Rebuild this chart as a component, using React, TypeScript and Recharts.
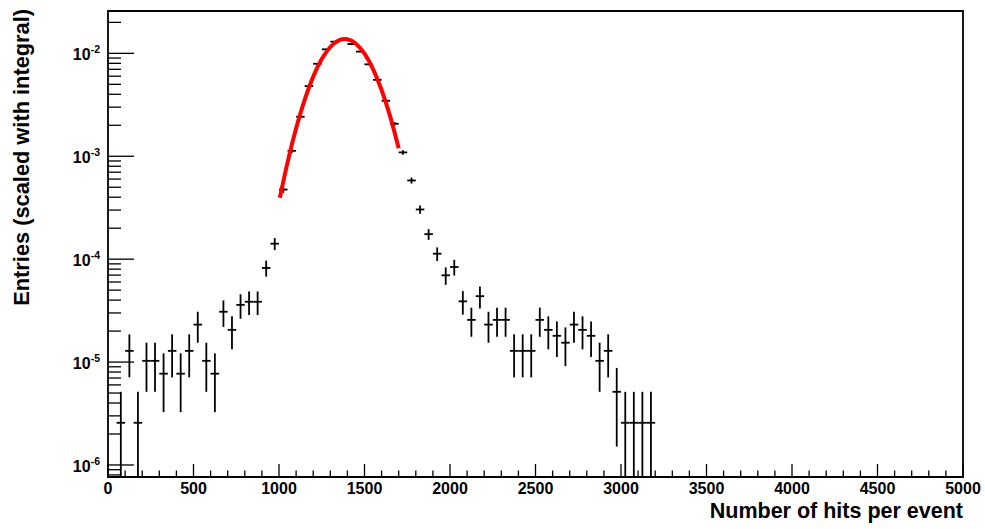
import {
  ComposedChart,
  Scatter,
  Line,
  XAxis,
  YAxis,
  ErrorBar,
  ReferenceArea,
} from 'recharts';

// histogram: bin centres (bin width 50), scaled contents and their errors
const BIN_CENTERS = [
  75, 125, 175, 225, 275, 325, 375, 425, 475, 525, 575, 625, 675, 725, 775, 825,
  875, 925, 975, 1025, 1075, 1125, 1175, 1225, 1275, 1325, 1375, 1425, 1475,
  1525, 1575, 1625, 1675, 1725, 1775, 1825, 1875, 1925, 1975, 2025, 2075, 2125,
  2175, 2225, 2275, 2325, 2375, 2425, 2475, 2525, 2575, 2625, 2675, 2725, 2775,
  2825, 2875, 2925, 2975, 3025, 3075, 3125, 3175,
];

const ENTRIES = [
  2.57e-6, 1.285e-5, 2.57e-6, 1.028e-5, 1.028e-5, 7.71e-6, 1.285e-5, 7.71e-6,
  1.285e-5, 2.313e-5, 1.028e-5, 7.71e-6, 3.084e-5, 2.056e-5, 3.598e-5, 3.855e-5,
  3.855e-5, 8.22e-5, 1.414e-4, 4.75e-4, 1.13e-3, 2.42e-3, 4.81e-3, 7.92e-3,
  1.094e-2, 1.3e-2, 1.36e-2, 1.23e-2, 1.04e-2, 7.82e-3, 5.53e-3, 3.46e-3,
  2.07e-3, 1.09e-3, 5.82e-4, 3.04e-4, 1.75e-4, 1.13e-4, 6.97e-5, 8.39e-5,
  3.89e-5, 2.57e-5, 4.37e-5, 2.313e-5, 2.57e-5, 2.57e-5, 1.285e-5, 1.285e-5,
  1.285e-5, 2.57e-5, 2.056e-5, 1.799e-5, 1.542e-5, 2.313e-5, 2.056e-5, 1.799e-5,
  1.028e-5, 1.285e-5, 5.14e-6, 2.57e-6, 2.57e-6, 2.57e-6, 2.57e-6,
];

const ENTRY_ERRORS = [
  2.57e-6, 5.75e-6, 2.57e-6, 5.14e-6, 5.14e-6, 4.45e-6, 5.75e-6, 4.45e-6,
  5.75e-6, 7.71e-6, 5.14e-6, 4.45e-6, 8.9e-6, 7.27e-6, 9.62e-6, 9.95e-6,
  9.95e-6, 1.45e-5, 1.9e-5, 3.5e-5, 5.4e-5, 7.9e-5, 1.11e-4, 1.43e-4,
  1.68e-4, 1.83e-4, 1.87e-4, 1.78e-4, 1.63e-4, 1.42e-4, 1.19e-4, 9.4e-5,
  7.3e-5, 5.3e-5, 3.9e-5, 2.8e-5, 2.1e-5, 1.7e-5, 1.34e-5, 1.46e-5,
  1.0e-5, 8.1e-6, 1.06e-5, 7.71e-6, 8.1e-6, 8.1e-6, 5.75e-6, 5.75e-6,
  5.75e-6, 8.1e-6, 7.27e-6, 6.8e-6, 6.3e-6, 7.71e-6, 7.27e-6, 6.8e-6,
  5.14e-6, 5.75e-6, 3.63e-6, 2.57e-6, 2.57e-6, 2.57e-6, 2.57e-6,
];

const HALF_BIN = 25;

// gaussian fit
const FIT_X = [1005, 1050, 1100, 1150, 1200, 1250, 1300, 1350, 1385, 1400, 1450, 1500, 1550, 1600, 1650, 1700];
const FIT_Y = [
  3.95e-4, 8.72e-4, 1.87e-3, 3.54e-3, 5.94e-3, 8.81e-3, 1.153e-2, 1.337e-2,
  1.377e-2, 1.369e-2, 1.241e-2, 9.93e-3, 7.04e-3, 4.4e-3, 2.44e-3, 1.194e-3,
];

const X_MAJOR = [0, 500, 1000, 1500, 2000, 2500, 3000, 3500, 4000, 4500, 5000];
const Y_MAJOR = [1e-6, 1e-5, 1e-4, 1e-3, 1e-2];

const X_MIN = 0;
const X_MAX = 5000;
const Y_MIN = 7.64e-7;
const Y_MAX = 0.0258;

const PLOT_LEFT = 108;
const PLOT_TOP = 11;
const PLOT_RIGHT = 963;
const PLOT_BOTTOM = 477;
const W = 985;
const H = 529;

const FONT = '"Liberation Sans", Arial, Helvetica, sans-serif';

const xTicks: number[] = [];
for (let v = X_MIN; v <= X_MAX; v += 100) xTicks.push(v);

const yTicks: number[] = [];
for (let e = -7; e <= -2; e++) {
  for (let k = 1; k <= 9; k++) {
    const v = k * Math.pow(10, e);
    if (v < Y_MIN || v > Y_MAX) continue;
    const major = k === 1 ? Y_MAJOR.find((m) => Math.abs(m - v) < v * 1e-9) : undefined;
    yTicks.push(major ?? v);
  }
}

const histData = BIN_CENTERS.map((x, i) => {
  const y = ENTRIES[i];
  const e = ENTRY_ERRORS[i];
  return { x, y, ey: [Math.min(e, y - Y_MIN), e], ex: HALF_BIN };
});

const fitData = FIT_X.map((x, i) => ({ x, y: FIT_Y[i] }));

function XTick(props: any) {
  const { x, payload } = props;
  const v = payload.value;
  const major = X_MAJOR.includes(v);
  return (
    <g>
      <line
        x1={x}
        x2={x}
        y1={PLOT_BOTTOM}
        y2={PLOT_BOTTOM - (major ? 13 : 6.5)}
        stroke="#000"
        strokeWidth={1.3}
      />
      {major && (
        <text
          x={x}
          y={PLOT_BOTTOM + 16.5}
          textAnchor="middle"
          fontFamily={FONT}
          fontWeight="bold"
          fontSize={16}
          fill="#000"
        >
          {v}
        </text>
      )}
    </g>
  );
}

function YTick(props: any) {
  const { y, payload } = props;
  const v = payload.value;
  const major = Y_MAJOR.includes(v);
  return (
    <g>
      <line
        x1={PLOT_LEFT}
        x2={PLOT_LEFT + (major ? 26 : 13)}
        y1={y}
        y2={y}
        stroke="#000"
        strokeWidth={1.3}
      />
      {major && (
        <text
          x={PLOT_LEFT - 8}
          y={y + 7}
          textAnchor="end"
          fontFamily={FONT}
          fontWeight="bold"
          fontSize={16}
          fill="#000"
        >
          <tspan>10</tspan>
          <tspan dy={-7} fontSize={10.5}>
            {String(Math.round(Math.log10(v)))}
          </tspan>
        </text>
      )}
    </g>
  );
}

function XTitle() {
  return (
    <text
      x={PLOT_RIGHT}
      y={518}
      textAnchor="end"
      fontFamily={FONT}
      fontWeight="bold"
      fontSize={21.5}
      fill="#000"
    >
      Number of hits per event
    </text>
  );
}

function YTitle() {
  return (
    <text
      transform="translate(28.5,9) rotate(-90)"
      textAnchor="end"
      fontFamily={FONT}
      fontWeight="bold"
      fontSize={21.8}
      fill="#000"
    >
      Entries (scaled with integral)
    </text>
  );
}

export default function App() {
  return (
    <div
      style={{
        position: 'absolute',
        left: 0,
        top: 0,
        width: W,
        height: H,
        background: '#fff',
      }}
    >
      <ComposedChart
        width={W}
        height={H}
        margin={{ top: PLOT_TOP, right: W - PLOT_RIGHT, bottom: 0, left: 0 }}
      >
        <XAxis
          dataKey="x"
          type="number"
          domain={[X_MIN, X_MAX]}
          ticks={xTicks}
          interval={0}
          allowDataOverflow
          height={H - PLOT_BOTTOM}
          axisLine={false}
          tickLine={false}
          tickSize={0}
          tickMargin={0}
          tick={<XTick />}
          label={<XTitle />}
        />
        <YAxis
          dataKey="y"
          type="number"
          scale="log"
          domain={[Y_MIN, Y_MAX]}
          ticks={yTicks}
          interval={0}
          allowDataOverflow
          width={PLOT_LEFT}
          axisLine={false}
          tickLine={false}
          tickSize={0}
          tickMargin={0}
          tick={<YTick />}
          label={<YTitle />}
        />
        <ReferenceArea
          x1={X_MIN}
          x2={X_MAX}
          y1={Y_MIN}
          y2={Y_MAX}
          fill="none"
          stroke="#000"
          strokeWidth={1.8}
          ifOverflow="visible"
        />
        <Scatter
          data={histData}
          dataKey="y"
          isAnimationActive={false}
          shape={() => <g />}
        >
          <ErrorBar dataKey="ey" direction="y" width={0} stroke="#000" strokeWidth={1.8} />
          <ErrorBar dataKey="ex" direction="x" width={0} stroke="#000" strokeWidth={1.8} />
        </Scatter>
        <Line
          data={fitData}
          dataKey="y"
          type="monotone"
          stroke="#ff0000"
          strokeWidth={4}
          dot={false}
          activeDot={false}
          isAnimationActive={false}
        />
      </ComposedChart>
    </div>
  );
}
